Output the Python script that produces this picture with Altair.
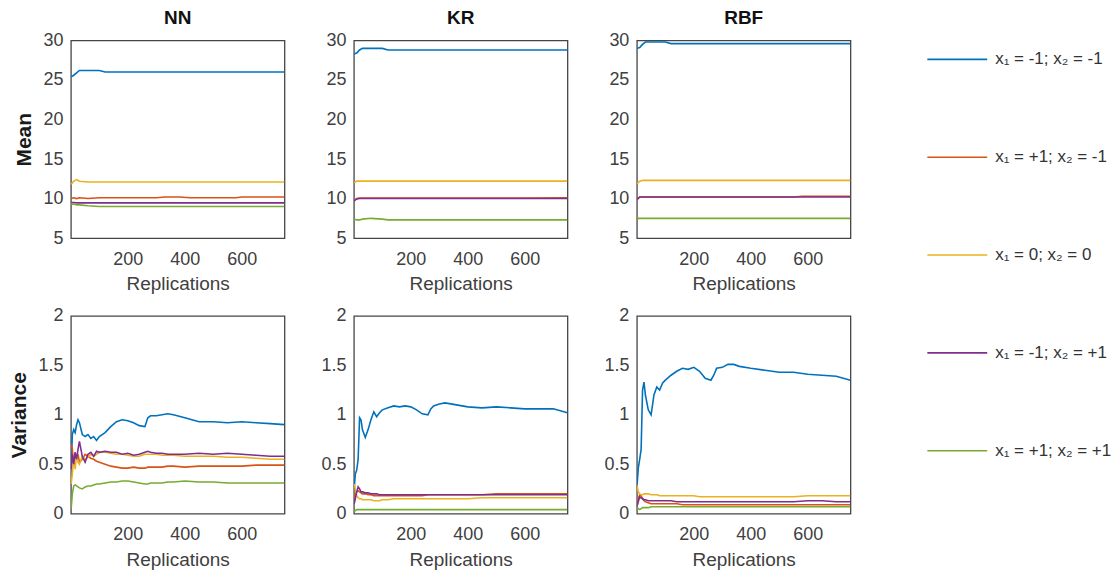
import altair as alt
import pandas as pd

models = ["NN", "KR", "RBF"]
series = ["x₁ = -1; x₂ = -1", "x₁ = +1; x₂ = -1", "x₁ = 0; x₂ = 0",
          "x₁ = -1; x₂ = +1", "x₁ = +1; x₂ = +1"]
colors = ["#0072BD", "#D95319", "#EDB120", "#7E2F8E", "#77AC30"]

# ---------------- Mean panels ----------------
mean_reps = [1, 10, 20, 30, 60, 100, 120, 200, 300, 330, 380, 420, 450, 550, 580, 600, 750]

nn_mean = [
    [25.4, 25.6, 25.9, 26.2, 26.2, 26.2, 26.0, 26.0, 26.0, 26.0, 26.0, 26.0, 26.0, 26.0, 26.0, 26.0, 26.0],
    [10.0, 10.1, 10.0, 10.1, 10.0, 10.1, 10.1, 10.1, 10.1, 10.2, 10.2, 10.1, 10.1, 10.1, 10.1, 10.2, 10.2],
    [11.8, 12.2, 12.4, 12.2, 12.1, 12.1, 12.1, 12.1, 12.1, 12.1, 12.1, 12.1, 12.1, 12.1, 12.1, 12.1, 12.1],
    [9.5, 9.5, 9.45, 9.45, 9.45, 9.45, 9.45, 9.45, 9.45, 9.45, 9.45, 9.45, 9.45, 9.45, 9.45, 9.45, 9.45],
    [9.3, 9.3, 9.2, 9.2, 9.1, 9.0, 9.0, 9.0, 9.0, 9.0, 9.0, 9.0, 9.0, 9.0, 9.0, 9.0, 9.0],
]
kr_mean = [
    [28.3, 28.4, 28.8, 29.0, 29.0, 29.0, 28.8, 28.8, 28.8, 28.8, 28.8, 28.8, 28.8, 28.8, 28.8, 28.8, 28.8],
    [9.8, 10.0, 10.05, 10.05, 10.05, 10.05, 10.05, 10.05, 10.05, 10.05, 10.05, 10.05, 10.05, 10.05, 10.05, 10.05, 10.1],
    [12.0, 12.2, 12.2, 12.2, 12.2, 12.2, 12.2, 12.2, 12.2, 12.2, 12.2, 12.2, 12.2, 12.2, 12.2, 12.2, 12.2],
    [9.7, 9.95, 10.0, 10.0, 10.0, 10.0, 10.0, 10.0, 10.0, 10.0, 10.0, 10.0, 10.0, 10.0, 10.0, 10.0, 10.0],
    [7.4, 7.3, 7.3, 7.4, 7.5, 7.4, 7.3, 7.3, 7.3, 7.3, 7.3, 7.3, 7.3, 7.3, 7.3, 7.3, 7.3],
]
rbf_mean = [
    [29.0, 29.1, 29.5, 29.8, 29.8, 29.8, 29.6, 29.6, 29.6, 29.6, 29.6, 29.6, 29.6, 29.6, 29.6, 29.6, 29.6],
    [9.9, 10.2, 10.2, 10.2, 10.2, 10.2, 10.2, 10.2, 10.2, 10.2, 10.2, 10.2, 10.2, 10.2, 10.3, 10.3, 10.3],
    [11.9, 12.2, 12.3, 12.3, 12.3, 12.3, 12.3, 12.3, 12.3, 12.3, 12.3, 12.3, 12.3, 12.3, 12.3, 12.3, 12.3],
    [9.9, 10.2, 10.2, 10.2, 10.2, 10.2, 10.2, 10.2, 10.2, 10.2, 10.2, 10.2, 10.2, 10.2, 10.2, 10.2, 10.2],
    [7.5, 7.5, 7.5, 7.5, 7.5, 7.5, 7.5, 7.5, 7.5, 7.5, 7.5, 7.5, 7.5, 7.5, 7.5, 7.5, 7.5],
]

# ---------------- Variance panels ----------------
var_reps = [1, 5, 10, 15, 20, 25, 30, 40, 50, 60, 70, 80, 90, 100, 120, 140, 160, 180,
            200, 220, 240, 260, 270, 280, 300, 320, 340, 360, 400, 450, 500, 550, 600, 650, 700, 750]

nn_var = [
    [0.45, 0.80, 0.85, 0.82, 0.90, 0.95, 0.92, 0.80, 0.78, 0.80, 0.76, 0.78, 0.74, 0.78, 0.82, 0.88, 0.93, 0.95,
     0.94, 0.92, 0.89, 0.88, 0.97, 0.99, 0.99, 1.00, 1.01, 1.00, 0.97, 0.93, 0.93, 0.92, 0.93, 0.92, 0.91, 0.90],
    [0.70, 0.65, 0.50, 0.62, 0.55, 0.60, 0.52, 0.55, 0.60, 0.58, 0.56, 0.55, 0.53, 0.52, 0.50, 0.48, 0.47, 0.46,
     0.46, 0.47, 0.46, 0.46, 0.47, 0.47, 0.47, 0.47, 0.48, 0.48, 0.47, 0.48, 0.48, 0.48, 0.48, 0.49, 0.49, 0.49],
    [0.30, 0.40, 0.55, 0.45, 0.60, 0.52, 0.50, 0.58, 0.55, 0.57, 0.60, 0.58, 0.60, 0.62, 0.62, 0.61, 0.60, 0.60,
     0.59, 0.58, 0.58, 0.60, 0.60, 0.60, 0.60, 0.59, 0.59, 0.59, 0.58, 0.58, 0.58, 0.57, 0.57, 0.56, 0.55, 0.55],
    [0.45, 0.60, 0.50, 0.62, 0.55, 0.65, 0.73, 0.58, 0.52, 0.60, 0.62, 0.58, 0.63, 0.62, 0.63, 0.62, 0.62, 0.60,
     0.61, 0.59, 0.60, 0.62, 0.63, 0.62, 0.61, 0.61, 0.60, 0.60, 0.60, 0.61, 0.60, 0.61, 0.60, 0.59, 0.58, 0.58],
    [0.05, 0.20, 0.28, 0.29, 0.28, 0.27, 0.26, 0.25, 0.27, 0.28, 0.28, 0.29, 0.30, 0.30, 0.31, 0.32, 0.32, 0.33,
     0.33, 0.32, 0.31, 0.30, 0.30, 0.31, 0.31, 0.31, 0.32, 0.32, 0.33, 0.32, 0.32, 0.31, 0.31, 0.31, 0.31, 0.31],
]
kr_var = [
    [0.25, 0.40, 0.44, 0.55, 0.97, 0.95, 0.85, 0.77, 0.85, 0.95, 1.03, 0.98, 1.02, 1.05, 1.07, 1.09, 1.08, 1.09,
     1.08, 1.05, 1.01, 1.00, 1.06, 1.09, 1.11, 1.12, 1.11, 1.10, 1.08, 1.07, 1.08, 1.07, 1.06, 1.06, 1.06, 1.02],
    [0.15, 0.20, 0.22, 0.23, 0.22, 0.21, 0.20, 0.20, 0.19, 0.19, 0.18, 0.18, 0.18, 0.18, 0.18, 0.18, 0.18, 0.18,
     0.18, 0.18, 0.18, 0.19, 0.19, 0.19, 0.19, 0.19, 0.19, 0.19, 0.19, 0.19, 0.20, 0.20, 0.20, 0.20, 0.20, 0.20],
    [0.30, 0.25, 0.18, 0.16, 0.15, 0.15, 0.14, 0.14, 0.14, 0.14, 0.13, 0.13, 0.13, 0.14, 0.14, 0.15, 0.15, 0.15,
     0.15, 0.15, 0.15, 0.15, 0.15, 0.15, 0.15, 0.15, 0.15, 0.15, 0.15, 0.16, 0.16, 0.16, 0.16, 0.16, 0.16, 0.16],
    [0.10, 0.15, 0.22, 0.27, 0.25, 0.22, 0.22, 0.21, 0.21, 0.20, 0.20, 0.20, 0.19, 0.19, 0.19, 0.19, 0.19, 0.19,
     0.19, 0.19, 0.19, 0.19, 0.19, 0.19, 0.19, 0.19, 0.19, 0.19, 0.19, 0.19, 0.19, 0.19, 0.19, 0.19, 0.19, 0.19],
    [0.02, 0.03, 0.04, 0.04, 0.04, 0.04, 0.04, 0.04, 0.04, 0.04, 0.04, 0.04, 0.04, 0.04, 0.04, 0.04, 0.04, 0.04,
     0.04, 0.04, 0.04, 0.04, 0.04, 0.04, 0.04, 0.04, 0.04, 0.04, 0.04, 0.04, 0.04, 0.04, 0.04, 0.04, 0.04, 0.04],
]
rbf_var = [
    [0.30, 0.46, 0.55, 0.65, 1.25, 1.33, 1.20, 1.05, 1.00, 1.20, 1.28, 1.25, 1.32, 1.35, 1.40, 1.44, 1.47, 1.46,
     1.48, 1.44, 1.37, 1.35, 1.40, 1.47, 1.48, 1.51, 1.51, 1.49, 1.47, 1.45, 1.43, 1.43, 1.41, 1.40, 1.39, 1.35],
    [0.10, 0.15, 0.19, 0.18, 0.15, 0.13, 0.12, 0.11, 0.10, 0.10, 0.10, 0.10, 0.10, 0.10, 0.10, 0.10, 0.09, 0.09,
     0.09, 0.09, 0.09, 0.09, 0.09, 0.09, 0.09, 0.09, 0.09, 0.09, 0.09, 0.09, 0.09, 0.09, 0.09, 0.09, 0.09, 0.09],
    [0.28, 0.22, 0.20, 0.19, 0.19, 0.20, 0.20, 0.20, 0.19, 0.19, 0.19, 0.18, 0.18, 0.18, 0.18, 0.18, 0.18, 0.18,
     0.18, 0.17, 0.17, 0.17, 0.17, 0.17, 0.17, 0.17, 0.17, 0.17, 0.17, 0.17, 0.17, 0.17, 0.18, 0.18, 0.18, 0.18],
    [0.08, 0.12, 0.17, 0.16, 0.15, 0.14, 0.14, 0.13, 0.13, 0.13, 0.13, 0.13, 0.13, 0.13, 0.13, 0.12, 0.12, 0.12,
     0.12, 0.12, 0.12, 0.12, 0.12, 0.12, 0.12, 0.12, 0.12, 0.12, 0.12, 0.12, 0.12, 0.12, 0.13, 0.13, 0.12, 0.12],
    [0.05, 0.05, 0.04, 0.05, 0.06, 0.06, 0.06, 0.06, 0.07, 0.07, 0.07, 0.07, 0.07, 0.07, 0.07, 0.07, 0.07, 0.07,
     0.07, 0.07, 0.07, 0.07, 0.07, 0.07, 0.07, 0.07, 0.07, 0.07, 0.07, 0.07, 0.07, 0.07, 0.07, 0.07, 0.07, 0.07],
]

mean_data = {"NN": nn_mean, "KR": kr_mean, "RBF": rbf_mean}
var_data = {"NN": nn_var, "KR": kr_var, "RBF": rbf_var}


def frame(reps, values):
    rows = []
    for k, s in enumerate(series):
        for r, v in zip(reps, values[k]):
            rows.append({"rep": r, "value": v, "series": s, "k": k})
    return pd.DataFrame(rows)


FONT = "Liberation Sans"
LABEL_COLOR = "#404040"

color_scale = alt.Scale(domain=series, range=colors)


def panel(model, stat):
    if stat == "Mean":
        df = frame(mean_reps, mean_data[model])
        ydom, yvals = [5, 30], [5, 10, 15, 20, 25, 30]
    else:
        df = frame(var_reps, var_data[model])
        ydom, yvals = [0, 2], [0, 0.5, 1, 1.5, 2]
    ytitle = stat if model == "NN" else None
    yaxis_kwargs = dict(values=yvals, format="~g", grid=False, domain=False, ticks=False,
                        labelFontSize=18, labelColor=LABEL_COLOR, labelPadding=8,
                        labelFont=FONT)
    if ytitle:
        yaxis_kwargs.update(title=ytitle, titleFontSize=21, titleFontWeight="bold",
                            titleColor="#1a1a1a", titlePadding=8, titleFont=FONT)
    else:
        yaxis_kwargs.update(title=None)
    ch = alt.Chart(df).mark_line(strokeWidth=1.6, clip=True).encode(
        x=alt.X("rep:Q", scale=alt.Scale(domain=[0, 750], nice=False, zero=False),
                axis=alt.Axis(values=[200, 400, 600], grid=False, domain=False, ticks=False,
                              title="Replications", titleFontSize=19, titleFontWeight="normal",
                              titleColor=LABEL_COLOR, titlePadding=7, titleFont=FONT,
                              labelFontSize=18, labelColor=LABEL_COLOR, labelPadding=12,
                              labelFont=FONT)),
        y=alt.Y("value:Q", scale=alt.Scale(domain=ydom, nice=False, zero=False),
                axis=alt.Axis(**yaxis_kwargs)),
        color=alt.Color("series:N", scale=color_scale,
                        legend=alt.Legend(title=None, orient="none", legendX=857, legendY=-12,
                                          symbolType="stroke", symbolSize=3600,
                                          symbolStrokeWidth=1.6, labelFontSize=17,
                                          labelFont=FONT, labelColor="#333333",
                                          rowPadding=59, labelOffset=7)),
        order=alt.Order("rep:Q"),
        detail="k:O",
    ).properties(width=214, height=198)
    if stat == "Mean":
        ch = ch.properties(title=alt.TitleParams(model, fontSize=19, fontWeight="bold",
                                                 font=FONT, color="#111111", offset=3))
    return ch


panels = [panel(m, "Mean") for m in models] + [panel(m, "Variance") for m in models]

chart = alt.concat(*panels, columns=3,
                   spacing=alt.RowColnumber(row=11, column=34.5)).properties(
    padding={"left": 0, "top": 0, "right": 0, "bottom": 0},
    background="white"
).configure_view(stroke="#454545", strokeWidth=1.3)

chart.save("out.html", embed_options={"renderer": "svg", "actions": False})
